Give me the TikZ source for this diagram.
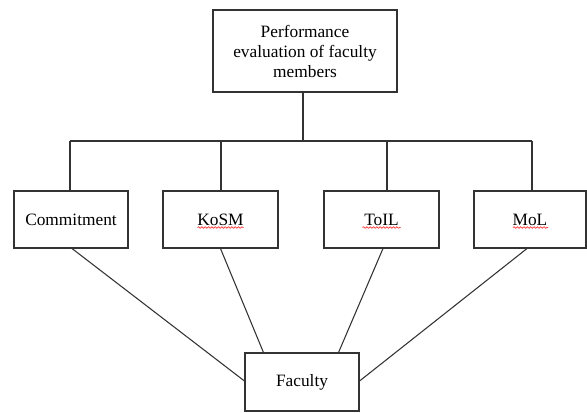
\documentclass[tikz,border=0pt]{standalone}
\usepackage{fontspec}
\setmainfont{Liberation Serif}
\usetikzlibrary{calc,decorations.pathmorphing}
\begin{document}
\begin{tikzpicture}[x=0.75pt,y=-0.75pt,
  box/.style={draw=black!80,line width=0.8pt,fill=white,inner sep=2pt,align=center,
    font=\fontsize{13}{15}\selectfont},
  link/.style={draw=black!80,line width=0.8pt},
  squig/.style={draw=red!80,line width=0.5pt,decorate,decoration={snake,amplitude=0.6pt,segment length=2.5pt}}]
\useasboundingbox (0,0) rectangle (587,412);
\node[box,minimum width=184*0.75pt,minimum height=82*0.75pt] (top) at (305,51) {Performance\\evaluation of faculty\\members};
\node[box,minimum width=114*0.75pt,minimum height=57*0.75pt] (com) at (71,219.5) {Commitment};
\node[box,minimum width=115*0.75pt,minimum height=57*0.75pt] (kosm) at (220.5,219.5) {KoSM};
\node[box,minimum width=115*0.75pt,minimum height=57*0.75pt] (toil) at (381.5,219.5) {ToIL};
\node[box,minimum width=112*0.75pt,minimum height=57*0.75pt] (mol) at (530,219.5) {MoL};
\node[box,minimum width=114*0.75pt,minimum height=58*0.75pt] (fac) at (302,382) {Faculty};
% bus
\coordinate (b0) at (303,141);
\coordinate (b1) at (70,141);
\coordinate (b2) at (221,141);
\coordinate (b3) at (387,141);
\coordinate (b4) at (532,141);
\draw[link] (top.south -| b0) -- (b0);
\draw[link] (b1) -- (b4);
\draw[link] (b1) -- (b1 |- com.north);
\draw[link] (b2) -- (b2 |- kosm.north);
\draw[link] (b3) -- (b3 |- toil.north);
\draw[link] (b4) -- (b4 |- mol.north);
% to faculty
\draw[link] ($(com.south)+(1,0)$) -- ($(fac.west)+(0,-1)$);
\draw[link] (kosm.south) -- ($(fac.north west)+(19,0)$);
\draw[link] ($(toil.south)+(1.5,0)$) -- ($(fac.north east)+(-21,0)$);
\draw[link] ($(mol.south)+(-3,0)$) -- ($(fac.east)+(0,-1)$);
% spell-check squiggles
\draw[squig] ($(kosm.center)+(-23,8)$) -- ++(46,0);
\draw[squig] ($(toil.center)+(-19,8)$) -- ++(38,0);
\draw[squig] ($(mol.center)+(-17,8)$) -- ++(35,0);
\end{tikzpicture}
\end{document}
